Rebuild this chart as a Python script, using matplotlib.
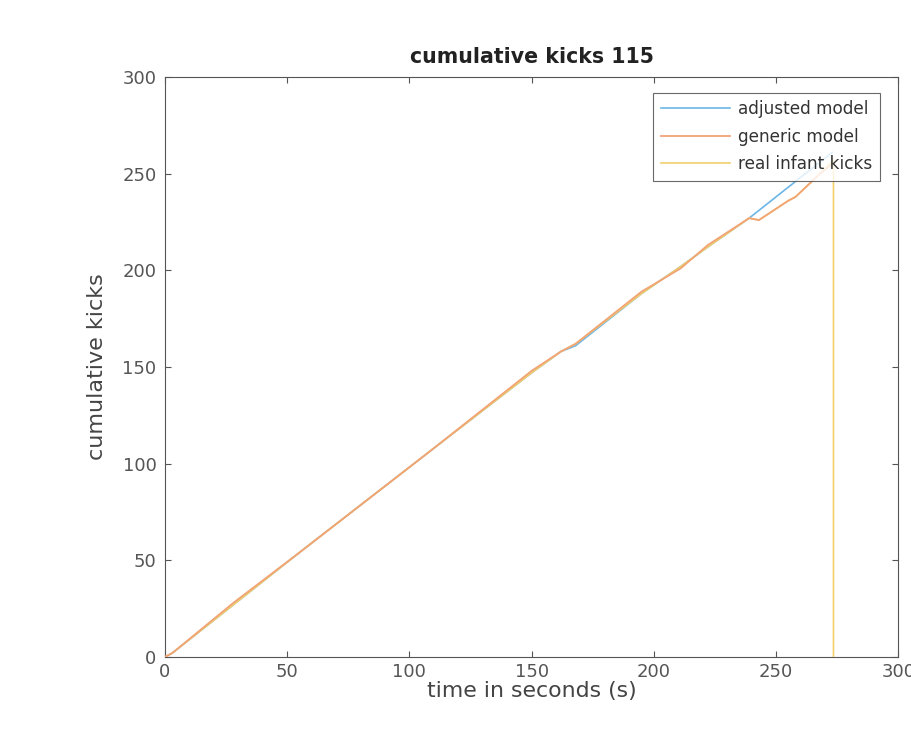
import matplotlib

matplotlib.use("Agg")

import matplotlib.pyplot as plt

plt.rcParams["font.family"] = ["DejaVu Sans"]

# values
adj_t = [0, 3, 28, 55, 108, 150, 162, 168, 195, 211, 222, 239, 262, 273]
adj_y = [0, 2, 27, 54, 106, 147, 158, 161, 188, 202, 212, 227, 250, 261]

gen_t = [0, 3, 28, 55, 108, 150, 162, 168, 195, 211, 222, 239, 243, 255, 258, 268, 273]
gen_y = [0, 2, 28, 54, 106, 148, 158, 162, 189, 201, 213, 227, 226, 236, 238, 250, 255]

real_t = [0, 3, 28, 55, 108, 150, 162, 168, 195, 211, 222, 239, 243, 255, 258, 268, 273.5, 273.5]
real_y = [0, 2, 27, 54, 106, 147, 158, 162, 188, 202, 212, 227, 226, 236, 238, 250, 257, 0]

BLUE = "#6cb6e6"
ORANGE = "#f2a474"
YELLOW = "#f2cf6a"
AXIS_GRAY = "#555555"

fig = plt.figure(figsize=(9.11, 7.3), dpi=100)
ax = fig.add_axes([0.181, 0.1, 0.805, 0.7945])

ax.plot(adj_t, adj_y, color=BLUE, linewidth=1.2, label="adjusted model", zorder=2)
ax.plot(real_t, real_y, color=YELLOW, linewidth=1.2, label="real infant kicks", zorder=3)
ax.plot(gen_t, gen_y, color=ORANGE, linewidth=1.3, label="generic model", zorder=4)

ax.set_xlim(0, 300)
ax.set_ylim(0, 300)
ax.set_xticks(range(0, 301, 50))
ax.set_yticks(range(0, 301, 50))
ax.tick_params(direction="in", length=4, colors=AXIS_GRAY, labelsize=13,
               top=True, right=True, labeltop=False, labelright=False, pad=4)
ax.tick_params(axis="y", pad=6)
for spine in ax.spines.values():
    spine.set_color(AXIS_GRAY)
    spine.set_linewidth(0.8)

ax.set_title("cumulative kicks 115", fontsize=14.8, fontweight="bold", color="#222222", pad=10)
ax.set_xlabel("time in seconds (s)", fontsize=15.8, color="#444444", labelpad=0)
ax.set_ylabel("cumulative kicks", fontsize=16, color="#444444", labelpad=11)

handles, labels = ax.get_legend_handles_labels()
order = [0, 2, 1]
leg = ax.legend([handles[i] for i in order], [labels[i] for i in order],
                loc="upper right", bbox_to_anchor=(0.975, 0.973), fontsize=12.2,
                frameon=True, fancybox=False, edgecolor="#444444",
                handlelength=4.1, handletextpad=0.45, borderpad=0.45,
                labelspacing=0.55, borderaxespad=0)
leg.get_frame().set_linewidth(0.8)
leg.set_zorder(10)
for text in leg.get_texts():
    text.set_color("#333333")

fig.savefig("out.png", dpi=100, facecolor="white")
